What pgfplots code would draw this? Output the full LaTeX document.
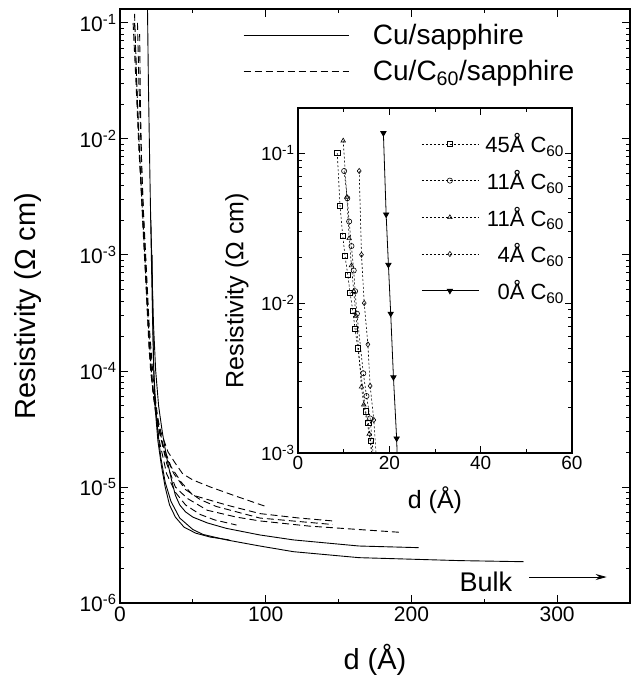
\documentclass[border=0pt]{standalone}
\usepackage{fontspec}
\setmainfont{Liberation Sans}
\usepackage{pgfplots}
\pgfplotsset{compat=1.18}
\usetikzlibrary{arrows.meta}
\begin{document}
\begin{tikzpicture}[x=1pt,y=1pt]
\path[use as bounding box] (0,0) rectangle (631,681);
\begin{axis}[
  at={(120pt,78pt)}, anchor=south west, scale only axis,
  width=510pt, height=594pt,
  xmin=0, xmax=350, ymode=log, ymin=1e-6, ymax=0.132,
  xtick={0,100,200,300}, minor x tick num=1,
  ytick={1e-6,1e-5,1e-4,1e-3,1e-2,1e-1},
  yticklabels={10\textsuperscript{-6},10\textsuperscript{-5},10\textsuperscript{-4},10\textsuperscript{-3},10\textsuperscript{-2},10\textsuperscript{-1}},
  tick align=inside, major tick length=8pt, minor tick length=4pt,
  axis line style={line width=1.3pt}, every tick/.style={black, line width=1pt},
  ticklabel style={font=\fontsize{21}{25}\selectfont},
  /pgf/number format/assume math mode=true,
  xlabel={d (Å)}, ylabel={Resistivity (Ω cm)},
  every axis x label/.style={at={(axis description cs:0.5,-0.096)}, anchor=center, font=\fontsize{29}{33}\selectfont},
  every axis y label/.style={at={(axis description cs:-0.1804,0.5)}, rotate=90, anchor=center, font=\fontsize{29}{33}\selectfont},
  legend style={at={(axis description cs:0.235,0.981)}, anchor=north west, draw=none, fill=none,
    font=\fontsize{28}{32}\selectfont, row sep=10pt,
    /tikz/every odd column/.append style={column sep=22pt}},
  legend cell align=left,
  legend image code/.code={\draw[#1] (0pt,0pt) -- (105pt,0pt);},
  main/.style={black, line width=0.9pt},
  dsh/.style={black, line width=0.9pt, dash pattern=on 7pt off 4pt},
]
\addlegendimage{main}
\addlegendentry{Cu/sapphire}
\addlegendimage{dsh}
\addlegendentry{Cu/C\textsubscript{60}/sapphire}
% solid curves
\addplot[main, forget plot] coordinates {(18.7,0.2)(19.5,0.03)(20.5,0.005)(21.5,1e-3)(22.3,3e-4)(23.2,1e-4)(24.5,5e-5)(26,3e-5)(28,1.8e-5)(31,1.1e-5)(35,7.5e-6)(41,5.4e-6)(50,4.3e-6)(57,3.9e-6)(73,3.5e-6)(96,3.1e-6)(119,2.77e-6)(164,2.46e-6)(233,2.32e-6)(277,2.27e-6)};
\addplot[main, forget plot] coordinates {(21.2,2e-3)(22,7e-4)(23,2.5e-4)(24.5,1e-4)(26.5,5e-5)(29,3e-5)(32,1.8e-5)(35,1.2e-5)(38,8.5e-6)(41,7e-6)(45,6.1e-6)(50,5.5e-6)(60,4.9e-6)(73,4.4e-6)(96,3.86e-6)(119,3.5e-6)(164,3.1e-6)(205,3.0e-6)};
\addplot[main, forget plot] coordinates {(22,1e-3)(22.5,3e-4)(23,1.2e-4)(24,5e-5)(26,2.5e-5)(28.5,1.5e-5)(31,1e-5)(34,7e-6)(38,5.5e-6)(44,4.5e-6)(52,4e-6)(62,3.7e-6)(75,3.5e-6)};
% dashed curves
\addplot[dsh, forget plot] coordinates {(9,0.1)(11,0.03)(13,0.008)(15,0.003)(17,1e-3)(19,3e-4)(21,1e-4)(24,5e-5)(28,3e-5)(33,2e-5)(38,1.6e-5)(43,1.3e-5)(50,1.15e-5)(62,1e-5)(80,8.3e-6)(100,6.8e-6)};
\addplot[dsh, forget plot] coordinates {(10,0.12)(11.5,0.03)(13,0.01)(15,0.003)(17,1e-3)(19.5,2.5e-4)(22,8e-5)(25,4e-5)(30,2.2e-5)(35,1.5e-5)(42,1.1e-5)(50,8.5e-6)(73,7e-6)(96,5.9e-6)(123,5.4e-6)(146,5.1e-6)};
\addplot[dsh, forget plot] coordinates {(13.5,0.08)(14,0.02)(15,0.005)(16.5,0.0017)(18,7e-4)(20,2e-4)(22.5,7e-5)(26,3.5e-5)(31,1.9e-5)(37,1.3e-5)(45,9.5e-6)(55,7.8e-6)(66,6.8e-6)(96,5.4e-6)(146,4.75e-6)};
\addplot[dsh, forget plot] coordinates {(10,0.1)(12,0.02)(14,0.005)(16,0.0015)(18,5e-4)(20,1.5e-4)(23,6e-5)(27,2.5e-5)(32,1.3e-5)(38,9e-6)(45,7e-6)(55,5.8e-6)(65,5.2e-6)(80,4.7e-6)};
\addplot[dsh, forget plot] coordinates {(12,0.1)(13,0.03)(14.5,0.008)(16,0.0025)(18,8e-4)(20,2.5e-4)(23,8e-5)(27,3e-5)(32,1.6e-5)(38,1e-5)(46,8e-6)(60,6.3e-6)(80,5.5e-6)(96,5.1e-6)(130,4.6e-6)(164,4.3e-6)(192,4.07e-6)};
\node[anchor=base west, font=\fontsize{27}{31}\selectfont, inner sep=0pt] at (axis cs:233,1.245e-6) {Bulk};
\draw[-{Stealth[length=11pt,width=6pt]}, line width=0.9pt] (axis cs:281,1.675e-6) -- (axis cs:334,1.675e-6);
\end{axis}
\begin{axis}[
  at={(298pt,228pt)}, anchor=south west, scale only axis,
  width=274pt, height=345pt,
  xmin=0, xmax=60, ymode=log, ymin=1e-3, ymax=0.2,
  xtick={0,20,40,60}, minor x tick num=1,
  ytick={1e-3,1e-2,1e-1},
  yticklabels={10\textsuperscript{-3},10\textsuperscript{-2},10\textsuperscript{-1}},
  axis background/.style={fill=white},
  tick align=inside, major tick length=7pt, minor tick length=4pt,
  axis line style={line width=1.2pt}, every tick/.style={black, line width=0.9pt},
  ticklabel style={font=\fontsize{19}{23}\selectfont},
  /pgf/number format/assume math mode=true,
  xlabel={d (Å)}, ylabel={Resistivity (Ω cm)},
  every axis x label/.style={at={(axis description cs:0.5,-0.136)}, anchor=center, font=\fontsize{25}{29}\selectfont},
  every axis y label/.style={at={(axis description cs:-0.2226,0.47)}, rotate=90, anchor=center, font=\fontsize{25}{29}\selectfont},
  legend style={at={(axis description cs:0.99,0.938)}, anchor=north east, draw=none, fill=none,
    font=\fontsize{22}{26}\selectfont, row sep=12pt,
    /tikz/every odd column/.append style={column sep=4pt}},
  legend cell align=right,
  legend image code/.code={\draw[mark repeat=2,mark phase=2,#1] plot coordinates {(0pt,0pt) (28pt,0pt) (57pt,0pt)};},
  dot/.style={black, line width=0.6pt, dash pattern=on 2pt off 2pt, mark size=2.6pt, every mark/.append style={solid, fill=white}},
]
\addplot[dot, mark=square] coordinates {(8.6,0.1)(9.2,0.0446)(9.8,0.028)(10.3,0.0206)(10.9,0.0154)(11.4,0.0117)(12.0,0.0089)(12.5,0.0067)(13.1,0.005)(14.8,0.0019)(15.4,0.0016)(15.9,0.0012)(16.5,0.0008)};
\addlegendentry{45Å C\textsubscript{60}}
\addplot[dot, mark=o] coordinates {(10.1,0.076)(10.8,0.05)(11.2,0.035)(11.7,0.024)(12.2,0.0165)(12.5,0.012)(12.9,0.0085)(14.3,0.0034)(15.0,0.0024)(15.8,0.0017)(16.7,0.0008)};
\addlegendentry{11Å C\textsubscript{60}}
\addplot[dot, mark=triangle] coordinates {(9.9,0.121)(10.7,0.051)(11.2,0.027)(11.7,0.0178)(12.2,0.012)(12.7,0.0082)(13.9,0.00276)(14.4,0.0021)(15.6,0.00134)(16.5,0.0008)};
\addlegendentry{11Å C\textsubscript{60}}
\addplot[dot, mark=diamond] coordinates {(13.4,0.076)(13.9,0.021)(14.5,0.01)(15.3,0.0053)(15.8,0.0028)(16.6,0.00166)(17.3,0.0008)};
\addlegendentry{4Å C\textsubscript{60}}
\addplot[black, line width=0.8pt, mark=triangle*, mark size=3pt, every mark/.append style={rotate=180}] coordinates {(18.7,0.136)(19.3,0.039)(19.8,0.018)(20.3,0.0085)(20.9,0.0032)(21.6,0.00125)(21.8,0.0008)};
\addlegendentry{0Å C\textsubscript{60}}
\end{axis}
\end{tikzpicture}
\end{document}
